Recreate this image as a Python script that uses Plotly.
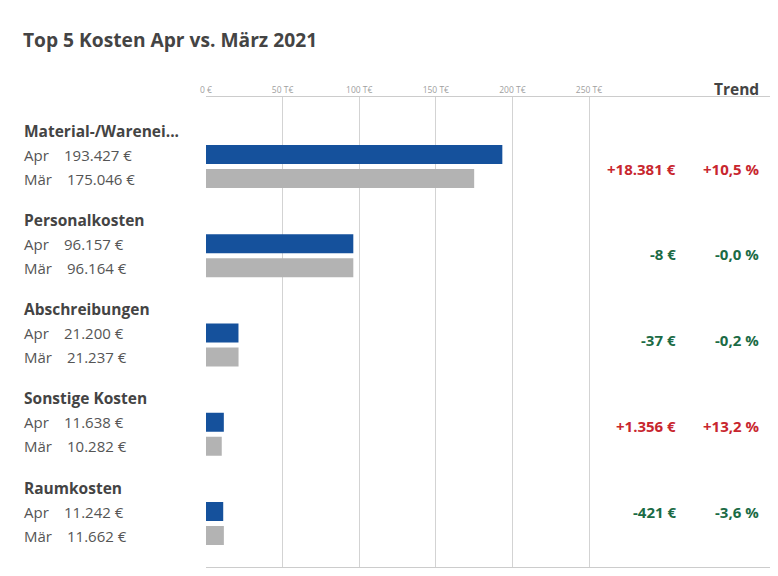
import plotly.graph_objects as go

categories = ["Material-/Warenei...", "Personalkosten", "Abschreibungen", "Sonstige Kosten", "Raumkosten"]
apr_values = [193427, 96157, 21200, 11638, 11242]
mar_values = [175046, 96164, 21237, 10282, 11662]
trend_delta = [18381, -8, -37, 1356, -421]
trend_pct = ["+10,5 %", "-0,0 %", "-0,2 %", "+13,2 %", "-3,6 %"]
tick_vals = [0, 50000, 100000, 150000, 200000, 250000]
tick_text = ["0 €", "50 T€", "100 T€", "150 T€", "200 T€", "250 T€"]
period_labels = ["Apr", "Mär"]

# page has an 8px body margin: figure sized to fit the window exactly
PAGE = 8
W, H = 778 - 2 * PAGE, 576 - 2 * PAGE
FONT = "Open Sans"
BLUE = "#15519c"
GREY = "#b3b3b3"
RED = "#c8262e"
GREEN = "#1b6b45"
DARK = "#444444"
MID = "#555555"

def px(v):
    return v - PAGE

# layout geometry (screen pixels of the target)
plot_top, plot_bot = px(97), px(567)
x0_px, x_end_px = px(206), px(770)
px_per_50k = 76.6
group_pitch = 89.25
first_apr = px(154.5) - plot_top
row_gap = 24
trend_first = px(168.5) - plot_top
trend_pitch = 85.9
plot_h = plot_bot - plot_top

def fmt_eur(v):
    return f"{v:,}".replace(",", ".") + " €"

def fmt_delta(v):
    s = f"{abs(v):,}".replace(",", ".")
    return ("+" if v > 0 else "-") + s + " €"

n = len(categories)
y_apr = [first_apr + i * group_pitch for i in range(n)]
y_mar = [y + row_gap for y in y_apr]
y_title = [y - row_gap for y in y_apr]
y_trend = [trend_first + i * trend_pitch for i in range(n)]

fig = go.Figure()
fig.add_trace(go.Bar(x=apr_values, y=y_apr, orientation="h", width=19,
                     marker=dict(color=BLUE, line=dict(width=0)), name="Apr", hoverinfo="x"))
fig.add_trace(go.Bar(x=mar_values, y=y_mar, orientation="h", width=19,
                     marker=dict(color=GREY, line=dict(width=0)), name="Mär", hoverinfo="x"))

def xp(v):
    return px(v) / W

ann = []
PAD = 2
for i, c in enumerate(categories):
    ann.append(dict(x=xp(24 - PAD), xref="paper", y=y_title[i], yref="y", text=f"<b>{c}</b>",
                    showarrow=False, xanchor="left", yanchor="middle",
                    font=dict(family=FONT, size=15.5, color=DARK)))
    for lab, yy, val, vx in [(period_labels[0], y_apr[i], apr_values[i], 64),
                             (period_labels[1], y_mar[i], mar_values[i], 67)]:
        ann.append(dict(x=xp(24 - PAD), xref="paper", y=yy, yref="y", text=lab, showarrow=False,
                        xanchor="left", yanchor="middle",
                        font=dict(family=FONT, size=15, color=MID)))
        ann.append(dict(x=xp(vx - PAD), xref="paper", y=yy, yref="y", text=fmt_eur(val),
                        showarrow=False, xanchor="left", yanchor="middle",
                        font=dict(family=FONT, size=15, color=MID)))
    col = RED if trend_delta[i] > 0 else GREEN
    ann.append(dict(x=xp(676 + PAD), xref="paper", y=y_trend[i], yref="y",
                    text=f"<b>{fmt_delta(trend_delta[i])}</b>", showarrow=False,
                    xanchor="right", yanchor="middle", font=dict(family=FONT, size=15, color=col)))
    ann.append(dict(x=xp(759 + PAD), xref="paper", y=y_trend[i], yref="y",
                    text=f"<b>{trend_pct[i]}</b>", showarrow=False,
                    xanchor="right", yanchor="middle", font=dict(family=FONT, size=15, color=col)))

ann.append(dict(x=xp(759 + PAD), xref="paper", y=1 + (plot_top - px(89)) / plot_h, yref="paper",
                text="<b>Trend</b>", showarrow=False, xanchor="right", yanchor="middle",
                font=dict(family=FONT, size=15.5, color=DARK)))

x_max = (x_end_px - x0_px) / px_per_50k * 50000

fig.update_layout(
    width=W, height=H,
    margin=dict(l=0, r=0, t=plot_top, b=H - plot_bot, autoexpand=False),
    paper_bgcolor="white", plot_bgcolor="white",
    showlegend=False, barmode="overlay",
    title=dict(text="<b>Top 5 Kosten Apr vs. März 2021</b>", x=px(23) / W, xanchor="left",
               xref="container", y=1 - px(40) / H, yanchor="middle", yref="container",
               font=dict(family=FONT, size=19.2, color=DARK)),
    xaxis=dict(domain=[x0_px / W, x_end_px / W], range=[0, x_max], side="top",
               tickvals=tick_vals, ticktext=tick_text, showgrid=True, gridcolor="#d3d3d3",
               gridwidth=1, zeroline=False, showline=True, mirror=True, linecolor="#cccccc",
               linewidth=1, ticks="", tickfont=dict(family=FONT, size=8.5, color="#a0a0a0"),
               fixedrange=True),
    yaxis=dict(range=[plot_h, 0], visible=False, showgrid=False, zeroline=False,
               fixedrange=True),
    annotations=ann,
)

fig.write_html("out.html")
